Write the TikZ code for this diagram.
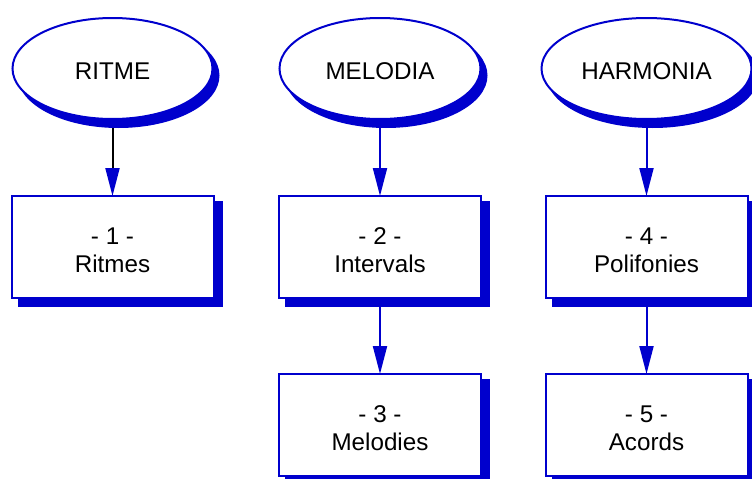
\documentclass[tikz,border=0pt]{standalone}
\usepackage{fontspec}
\setmainfont{Liberation Sans}
\usetikzlibrary{shapes.geometric,arrows.meta}
\definecolor{chartblue}{RGB}{0,0,205}
\pgfdeclarelayer{edges}
\pgfdeclarelayer{shadows}
\pgfsetlayers{edges,shadows,main}
% two-line lesson label, lowered a little inside its box
\newcommand{\lessontext}[2]{\rule{0pt}{23pt}- #1 -\\#2}
\tikzset{
  lbl/.style={font=\fontsize{24.2}{28}\selectfont, text=black},
  topic/.style={ellipse, lbl, draw=chartblue, line width=2pt, fill=white,
    inner sep=0pt, outer sep=0pt, minimum height=101pt,
    text height=22pt, text depth=0pt},
  lesson/.style={rectangle, lbl, draw=chartblue, line width=2pt, fill=white,
    inner sep=0pt, outer sep=0pt, minimum width=202pt, minimum height=102pt,
    align=center},
  link/.style={line width=2pt, draw=chartblue,
    -{Triangle[length=28pt, width=14pt, color=chartblue]}},
  darklink/.style={link, draw=black},
}
\begin{document}
\begin{tikzpicture}[x=1pt, y=-1pt]
\useasboundingbox (0,0) rectangle (752,479);

% topics
\node[topic, minimum width=200pt] (ritme)    at (112.5,68.5) {RITME};
\node[topic, minimum width=201pt] (melodia)  at (380,68.5)   {MELODIA};
\node[topic, minimum width=210pt] (harmonia) at (646.5,68.5) {HARMONIA};

% lessons
\node[lesson] (l1) at (112.5,247) {\lessontext{1}{Ritmes}};
\node[lesson] (l2) at (380,247)   {\lessontext{2}{Intervals}};
\node[lesson] (l3) at (380,425)   {\lessontext{3}{Melodies}};
\node[lesson] (l4) at (646.5,247) {\lessontext{4}{Polifonies}};
\node[lesson] (l5) at (646.5,425) {\lessontext{5}{Acords}};

% drop shadows
\begin{pgfonlayer}{shadows}
  \foreach \e/\rx in {ritme/101, melodia/101.5, harmonia/106}
    \fill[chartblue] ([shift={(6,7)}]\e.center)
      ellipse [x radius=\rx pt, y radius=52.5pt];
  \foreach \b in {l1,l2,l3,l4,l5}
    \fill[chartblue] ([shift={(6,5)}]\b.north west)
      rectangle ([shift={(9,9)}]\b.south east);
\end{pgfonlayer}

% connectors
\begin{pgfonlayer}{edges}
  \draw[darklink] (ritme.south) -- (l1.north);
  \draw[link] (melodia.south) -- (l2.north);
  \draw[link] (l2.south) -- (l3.north);
  \draw[link] (harmonia.south) -- (l4.north);
  \draw[link] (l4.south) -- (l5.north);
\end{pgfonlayer}
\end{tikzpicture}
\end{document}
